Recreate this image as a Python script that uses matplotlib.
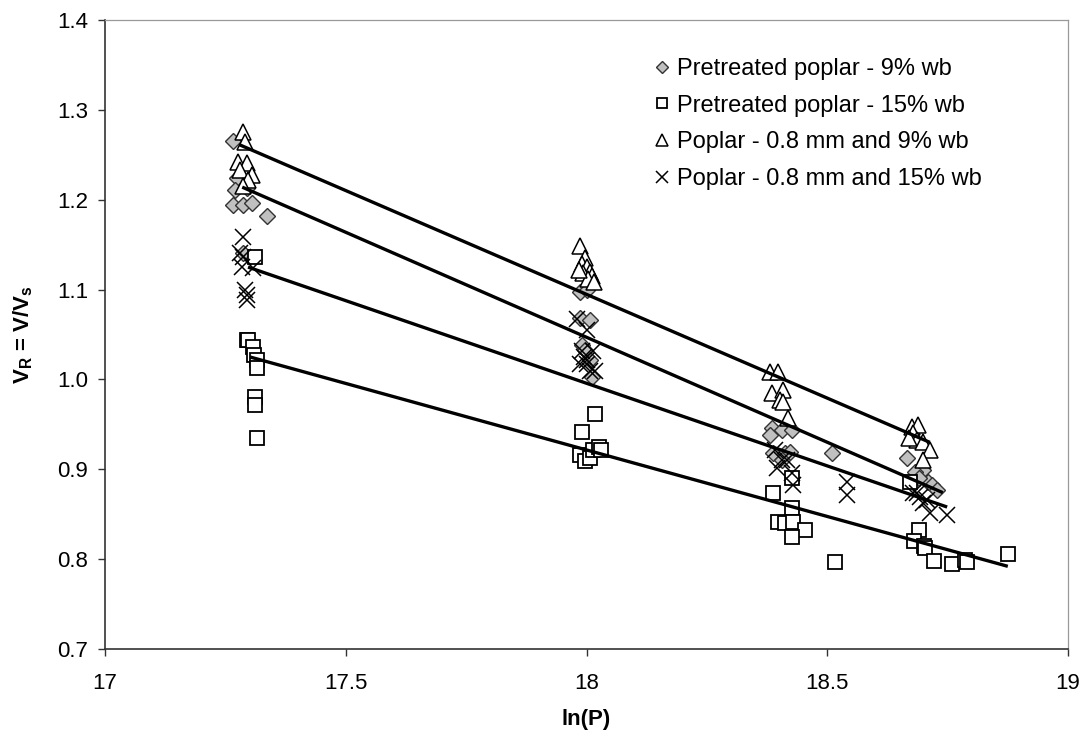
import matplotlib
matplotlib.use("Agg")
import matplotlib.pyplot as plt
import numpy as np

plt.rcParams['font.family'] = ['Liberation Sans', 'DejaVu Sans']
plt.rcParams['mathtext.fontset'] = 'custom'
plt.rcParams['mathtext.rm'] = 'Liberation Sans'
plt.rcParams['mathtext.bf'] = 'Liberation Sans:bold'
plt.rcParams['mathtext.it'] = 'Liberation Sans:italic'

# ---- data ----
pp9_x = [17.266, 17.274, 17.270, 17.266, 17.287, 17.305, 17.336, 17.295, 17.287,
         17.987, 18.001, 17.987, 18.007, 17.991, 17.997, 18.007, 18.011,
         18.385, 18.406, 18.427, 18.381, 18.387, 18.412, 18.423, 18.406, 18.510,
         18.666, 18.699, 18.682, 18.709, 18.718, 18.728, 18.690]
pp9_y = [1.265, 1.224, 1.211, 1.194, 1.194, 1.196, 1.182, 1.213, 1.141,
         1.097, 1.100, 1.068, 1.066, 1.038, 1.033, 1.022, 1.003,
         0.946, 0.944, 0.944, 0.938, 0.918, 0.918, 0.919, 0.910, 0.918,
         0.913, 0.899, 0.897, 0.886, 0.883, 0.877, 0.890]

pp15_x = [17.295, 17.297, 17.307, 17.309, 17.316, 17.316, 17.312, 17.312, 17.312, 17.316,
          18.018, 17.991, 17.987, 17.997, 18.007, 18.013, 18.025, 18.030,
          18.387, 18.427, 18.427, 18.398, 18.412, 18.429, 18.454, 18.427, 18.516,
          18.672, 18.690, 18.680, 18.701, 18.703, 18.722, 18.759, 18.786, 18.790, 18.875]
pp15_y = [1.044, 1.044, 1.036, 1.027, 1.022, 1.013, 1.136, 0.980, 0.972, 0.935,
          0.962, 0.941, 0.916, 0.909, 0.913, 0.921, 0.925, 0.922,
          0.874, 0.890, 0.857, 0.841, 0.840, 0.841, 0.832, 0.825, 0.797,
          0.886, 0.832, 0.820, 0.815, 0.812, 0.798, 0.795, 0.799, 0.797, 0.806]

p9_x = [17.287, 17.291, 17.276, 17.295, 17.280, 17.305, 17.297, 17.287,
        17.987, 17.997, 17.991, 18.001, 18.007, 17.993, 18.011, 18.003, 17.985, 18.015,
        18.381, 18.398, 18.385, 18.408, 18.402, 18.408, 18.418,
        18.676, 18.688, 18.678, 18.686, 18.699, 18.713, 18.699, 18.670]
p9_y = [1.275, 1.264, 1.242, 1.241, 1.233, 1.228, 1.222, 1.215,
        1.148, 1.135, 1.128, 1.125, 1.120, 1.118, 1.115, 1.112, 1.122, 1.108,
        1.008, 1.008, 0.985, 0.988, 0.977, 0.975, 0.957,
        0.947, 0.949, 0.940, 0.933, 0.930, 0.921, 0.910, 0.935]

p15_x = [17.287, 17.280, 17.287, 17.284, 17.307, 17.291, 17.295, 17.295,
         17.980, 18.001, 17.991, 18.013, 17.987, 18.001, 18.007, 18.018, 17.995, 18.000,
         18.391, 18.396, 18.416, 18.427, 18.429, 18.541, 18.541, 18.405,
         18.678, 18.693, 18.707, 18.713, 18.749, 18.686, 18.699]
p15_y = [1.159, 1.141, 1.136, 1.125, 1.124, 1.100, 1.094, 1.088,
         1.067, 1.055, 1.032, 1.032, 1.017, 1.017, 1.009, 1.009, 1.025, 1.022,
         0.921, 0.901, 0.910, 0.896, 0.883, 0.886, 0.871, 0.910,
         0.874, 0.869, 0.866, 0.851, 0.849, 0.874, 0.862]

# trend lines (endpoints)
fit_p9_x = [17.280, 18.713];  fit_p9_y = [1.261, 0.930]
fit_pp9_x = [17.285, 18.740]; fit_pp9_y = [1.214, 0.874]
fit_p15_x = [17.297, 18.749]; fit_p15_y = [1.125, 0.858]
fit_pp15_x = [17.301, 18.875]; fit_pp15_y = [1.025, 0.792]

labels = ['Pretreated poplar - 9% wb', 'Pretreated poplar - 15% wb',
          'Poplar - 0.8 mm and 9% wb', 'Poplar - 0.8 mm and 15% wb']
xticks = [17, 17.5, 18, 18.5, 19]
xtick_labels = ['17', '17.5', '18', '18.5', '19']
yticks = [0.7, 0.8, 0.9, 1.0, 1.1, 1.2, 1.3, 1.4]
ytick_labels = ['0.7', '0.8', '0.9', '1.0', '1.1', '1.2', '1.3', '1.4']

fig = plt.figure(figsize=(10.88, 7.38), dpi=100)
ax = fig.add_axes([105/1088, 1 - 649/738, (1068-105)/1088, (649-20)/738])

h1, = ax.plot(pp9_x, pp9_y, ls='none', marker='D', ms=8.5, mfc='#c0c0c0', mec='#333333', mew=1.0, label=labels[0])
h2, = ax.plot(pp15_x, pp15_y, ls='none', marker='s', ms=10, mfc='white', mec='black', mew=1.3, label=labels[1])
h3, = ax.plot(p9_x, p9_y, ls='none', marker='^', ms=11, mfc='white', mec='black', mew=1.1, label=labels[2])
h4, = ax.plot(p15_x, p15_y, ls='none', marker='x', ms=11, mec='black', mew=1.1, label=labels[3])

for fx, fy in [(fit_p9_x, fit_p9_y), (fit_pp9_x, fit_pp9_y), (fit_p15_x, fit_p15_y), (fit_pp15_x, fit_pp15_y)]:
    ax.plot(fx, fy, color='black', lw=2.4, solid_capstyle='butt')

ax.set_xlim(17, 19)
ax.set_ylim(0.7, 1.4)
ax.set_xticks(xticks)
ax.set_xticklabels(xtick_labels)
ax.set_yticks(yticks)
ax.set_yticklabels(ytick_labels)
ax.tick_params(axis='both', direction='out', length=5, width=1, labelsize=16, color='#333333')
ax.tick_params(axis='x', pad=12)
ax.tick_params(axis='y', pad=7)

for s in ['left', 'bottom']:
    ax.spines[s].set_color('#333333')
    ax.spines[s].set_linewidth(1.2)
for s in ['top', 'right']:
    ax.spines[s].set_color('#999999')
    ax.spines[s].set_linewidth(0.9)

ax.set_xlabel('ln(P)', fontsize=16, fontweight='bold')
ax.set_ylabel(r'$\mathbf{V_R}$ = $\mathbf{V/V_s}$', fontsize=16, fontweight='bold')
ax.xaxis.set_label_coords(0.5, (649 - 720) / 629, transform=ax.transAxes)
ax.yaxis.set_label_coords((23 - 105) / 963, 0.5, transform=ax.transAxes)
ax.xaxis.label.set_va('center')
ax.yaxis.label.set_va('center')

leg = ax.legend(handles=[h1, h2, h3, h4], loc='upper left', frameon=False,
                bbox_to_anchor=(655/1088, 1 - 58/738), bbox_transform=fig.transFigure,
                fontsize=17, markerscale=0.75, handlelength=0.6, handletextpad=0.35,
                labelspacing=0.62, borderpad=0, borderaxespad=0)

fig.savefig('out.png', dpi=100)
